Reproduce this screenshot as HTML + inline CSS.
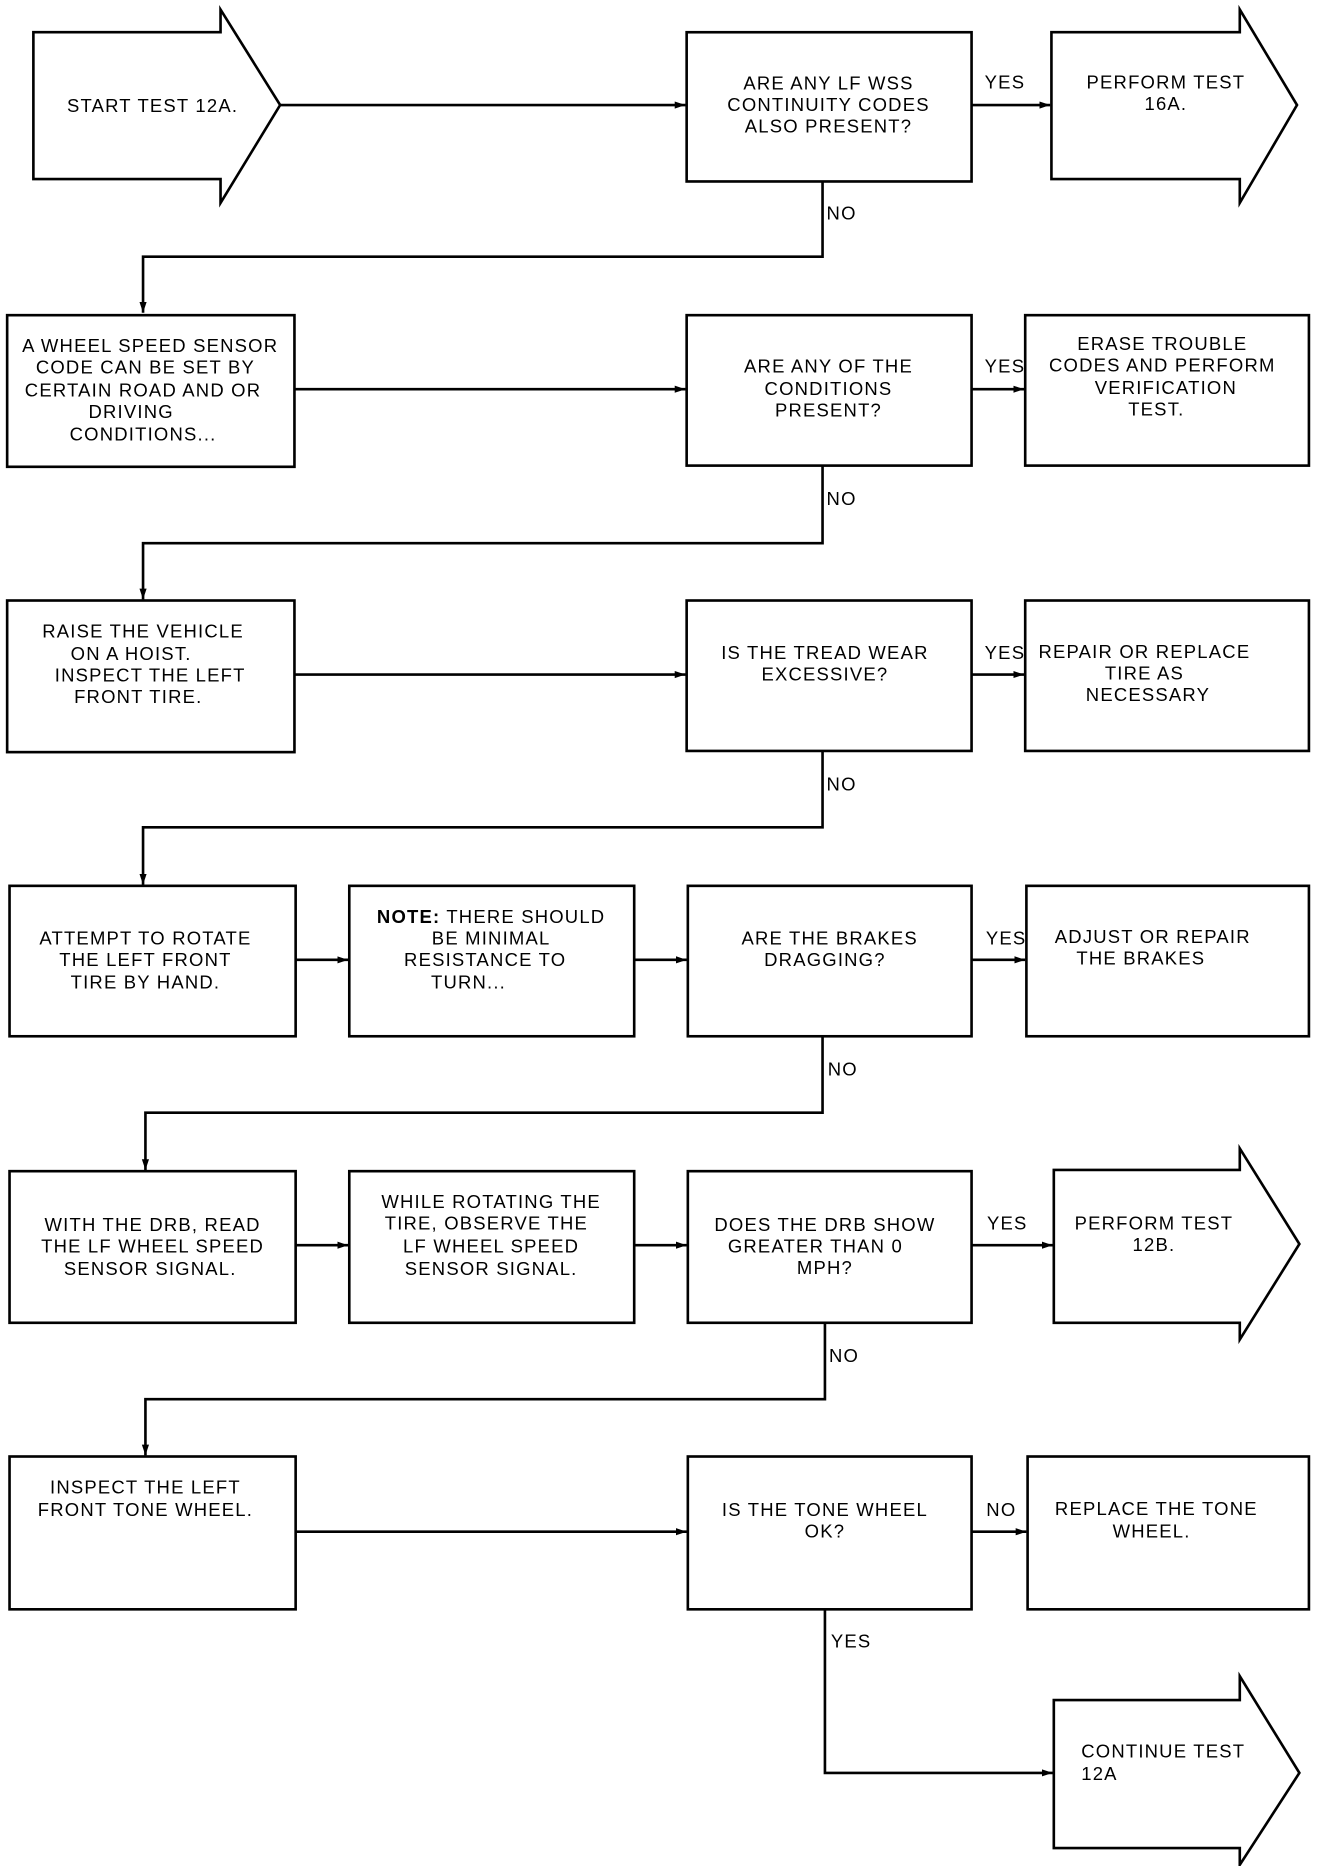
<!DOCTYPE html>
<html><head><meta charset="utf-8"><style>
html,body{margin:0;padding:0;background:#fff;}
svg{display:block;}
text{font-family:"Liberation Sans",sans-serif;font-size:15.5px;fill:#000;text-anchor:middle;letter-spacing:1px;}
</style></head><body>
<svg width="1328" height="1866" viewBox="0 0 1114 1563" preserveAspectRatio="none" xmlns="http://www.w3.org/2000/svg">
<defs><marker id="a" markerWidth="10" markerHeight="8" refX="9" refY="4" orient="auto" markerUnits="userSpaceOnUse"><path d="M0,1 L9,4 L0,7 Z" fill="#000"/></marker></defs>
<g fill="none" stroke="#000" stroke-width="2.2">
<path d="M28,27 H185 V8 L235,88 L185,170 V150 H28 Z"/>
<rect x="576" y="27" width="239" height="125"/>
<path d="M882,27 H1040 V8 L1088,88 L1040,170 V150 H882 Z"/>
<rect x="6" y="264" width="241" height="127"/>
<rect x="576" y="264" width="239" height="126"/>
<rect x="860" y="264" width="238" height="126"/>
<rect x="6" y="503" width="241" height="127"/>
<rect x="576" y="503" width="239" height="126"/>
<rect x="860" y="503" width="238" height="126"/>
<rect x="8" y="742" width="240" height="126"/>
<rect x="293" y="742" width="239" height="126"/>
<rect x="577" y="742" width="238" height="126"/>
<rect x="861" y="742" width="237" height="126"/>
<rect x="8" y="981" width="240" height="127"/>
<rect x="293" y="981" width="239" height="127"/>
<rect x="577" y="981" width="238" height="127"/>
<path d="M884,980 H1040 V962 L1090,1042 L1040,1122 V1108 H884 Z"/>
<rect x="8" y="1220" width="240" height="128"/>
<rect x="577" y="1220" width="238" height="128"/>
<rect x="862" y="1220" width="236" height="128"/>
<path d="M884,1424 H1040 V1404 L1090,1485 L1040,1562 V1548 H884 Z"/>
</g>
<g fill="none" stroke="#000" stroke-width="2.2" marker-end="url(#a)">
<path d="M235,88 H575"/>
<path d="M815,88 H881"/>
<path d="M690,152 V215 H120 V262"/>
<path d="M247,326 H575"/>
<path d="M815,326 H859"/>
<path d="M690,390 V455 H120 V502"/>
<path d="M247,565 H575"/>
<path d="M815,565 H859"/>
<path d="M690,629 V693 H120 V741"/>
<path d="M248,804 H292"/>
<path d="M532,804 H576"/>
<path d="M815,804 H860"/>
<path d="M690,868 V932 H122 V980"/>
<path d="M248,1043 H292"/>
<path d="M532,1043 H576"/>
<path d="M815,1043 H883"/>
<path d="M692,1108 V1172 H122 V1219"/>
<path d="M248,1283 H576"/>
<path d="M815,1283 H861"/>
<path d="M692,1348 V1485 H883"/>
</g>
<text x="128" y="94">START TEST 12A.</text>
<text x="695" y="75">ARE ANY LF WSS</text><text x="695" y="93">CONTINUITY CODES</text><text x="695" y="111">ALSO PRESENT?</text>
<text x="978" y="74">PERFORM TEST</text><text x="978" y="92">16A.</text>
<text x="126" y="295">A WHEEL SPEED SENSOR</text><text x="122" y="313">CODE CAN BE SET BY</text><text x="120" y="332">CERTAIN ROAD AND OR</text><text x="110" y="350">DRIVING</text><text x="120" y="369">CONDITIONS...</text>
<text x="695" y="312">ARE ANY OF THE</text><text x="695" y="331">CONDITIONS</text><text x="695" y="349">PRESENT?</text>
<text x="975" y="293">ERASE TROUBLE</text><text x="975" y="311">CODES AND PERFORM</text><text x="978" y="330">VERIFICATION</text><text x="970" y="348">TEST.</text>
<text x="120" y="534">RAISE THE VEHICLE</text><text x="110" y="553">ON A HOIST.</text><text x="126" y="571">INSPECT THE LEFT</text><text x="116" y="589">FRONT TIRE.</text>
<text x="692" y="552">IS THE TREAD WEAR</text><text x="692" y="570">EXCESSIVE?</text>
<text x="960" y="551">REPAIR OR REPLACE</text><text x="960" y="569">TIRE AS</text><text x="963" y="587">NECESSARY</text>
<text x="122" y="791">ATTEMPT TO ROTATE</text><text x="122" y="809">THE LEFT FRONT</text><text x="122" y="828">TIRE BY HAND.</text>
<text x="412" y="773"><tspan font-weight="bold">NOTE:</tspan> THERE SHOULD</text><text x="412" y="791">BE MINIMAL</text><text x="407" y="809">RESISTANCE TO</text><text x="393" y="828">TURN...</text>
<text x="696" y="791">ARE THE BRAKES</text><text x="692" y="809">DRAGGING?</text>
<text x="967" y="790">ADJUST OR REPAIR</text><text x="957" y="808">THE BRAKES</text>
<text x="128" y="1031">WITH THE DRB, READ</text><text x="128" y="1049">THE LF WHEEL SPEED</text><text x="126" y="1068">SENSOR SIGNAL.</text>
<text x="412" y="1012">WHILE ROTATING THE</text><text x="408" y="1030">TIRE, OBSERVE THE</text><text x="412" y="1049">LF WHEEL SPEED</text><text x="412" y="1068">SENSOR SIGNAL.</text>
<text x="692" y="1031">DOES THE DRB SHOW</text><text x="684" y="1049">GREATER THAN 0</text><text x="692" y="1067">MPH?</text>
<text x="968" y="1030">PERFORM TEST</text><text x="968" y="1048">12B.</text>
<text x="122" y="1251">INSPECT THE LEFT</text><text x="122" y="1270">FRONT TONE WHEEL.</text>
<text x="692" y="1270">IS THE TONE WHEEL</text><text x="692" y="1288">OK?</text>
<text x="970" y="1269">REPLACE THE TONE</text><text x="966" y="1288">WHEEL.</text>
<text x="907" y="1472" style="text-anchor:start">CONTINUE TEST</text><text x="907" y="1491" style="text-anchor:start">12A</text>
<text x="843" y="74">YES</text><text x="706" y="184">NO</text>
<text x="843" y="312">YES</text><text x="706" y="423">NO</text>
<text x="843" y="552">YES</text><text x="706" y="662">NO</text>
<text x="844" y="791">YES</text><text x="707" y="901">NO</text>
<text x="845" y="1030">YES</text><text x="708" y="1141">NO</text>
<text x="840" y="1270">NO</text><text x="714" y="1380">YES</text>
</svg>
</body></html>
